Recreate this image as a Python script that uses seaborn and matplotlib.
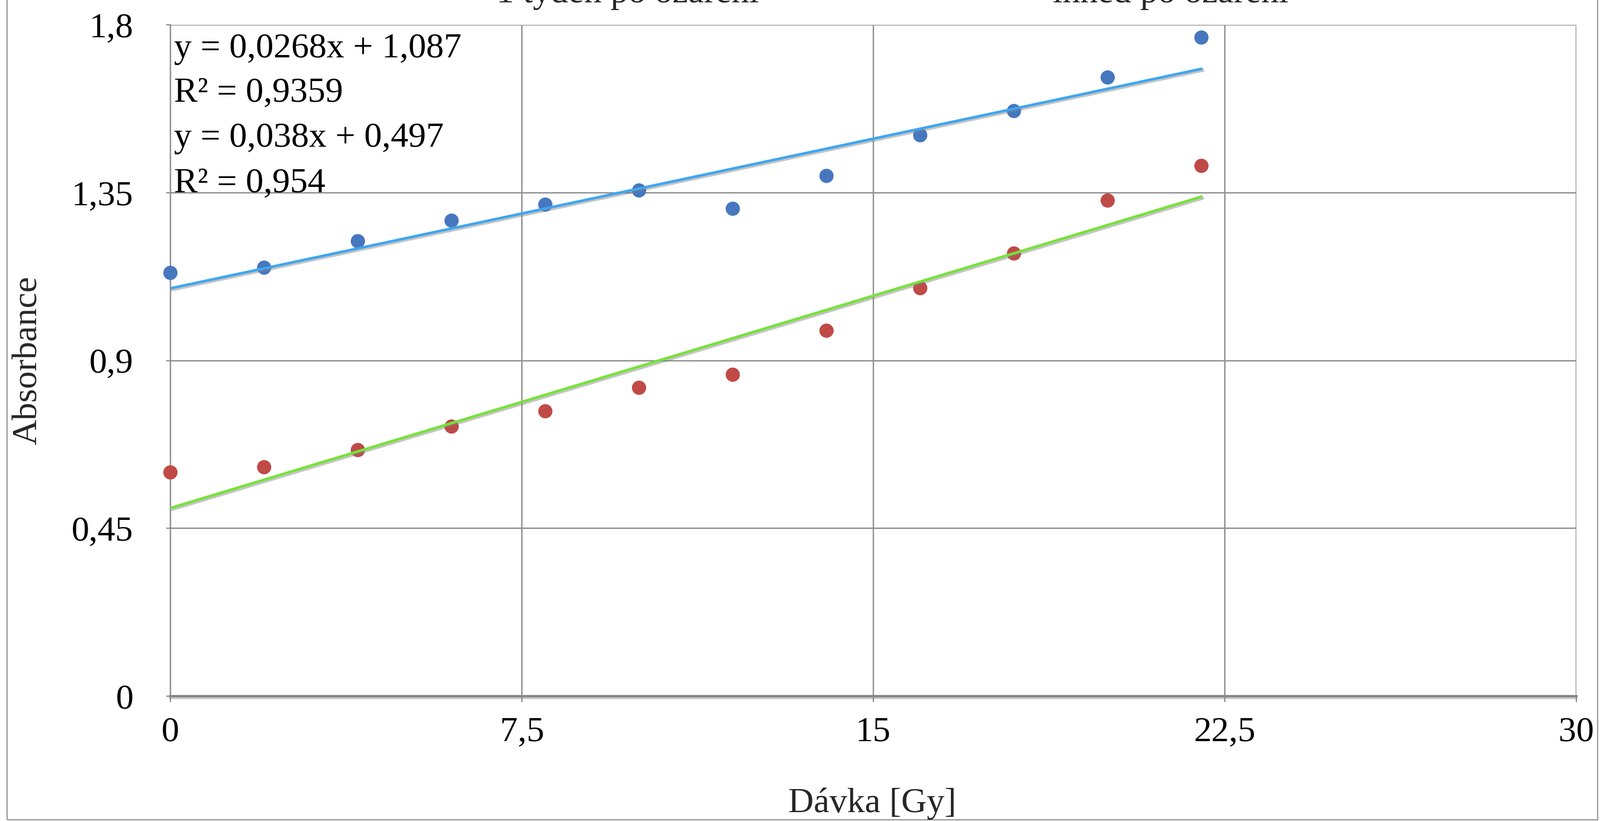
import matplotlib
matplotlib.use('Agg')
import matplotlib.pyplot as plt
import matplotlib.patheffects as pe
from matplotlib.patches import Rectangle
from matplotlib.ticker import FixedLocator, FixedFormatter
import seaborn as sns
import pandas as pd

# ---- data ----
dose = [0, 2, 4, 6, 8, 10, 12, 14, 16, 18, 20, 22]
abs_blue = [1.135, 1.149, 1.220, 1.275, 1.318, 1.356, 1.307, 1.395, 1.504, 1.569, 1.659, 1.766]
abs_red = [0.600, 0.614, 0.660, 0.723, 0.764, 0.827, 0.862, 0.980, 1.094, 1.187, 1.329, 1.422]

x_ticks = [0, 7.5, 15, 22.5, 30]
x_tick_labels = ["0", "7,5", "15", "22,5", "30"]
y_ticks = [0, 0.45, 0.9, 1.35, 1.8]
y_tick_labels = ["0", "0,45", "0,9", "1,35", "1,8"]

eq_lines = ["y = 0,0268x + 1,087", "R\u00b2 = 0,9359", "y = 0,038x + 0,497", "R\u00b2 = 0,954"]
legend_labels = ["1 týden po ozáření", "ihned po ozáření"]
x_label = "Dávka [Gy]"
y_label = "Absorbance"

df = pd.DataFrame({"dose": dose, "blue": abs_blue, "red": abs_red})

sns.set_theme(style="white")
plt.rcParams['font.family'] = ['Liberation Serif', 'DejaVu Serif']

W, H = 2704, 1388
fig = plt.figure(figsize=(W / 100, H / 100), dpi=100)
fig.patch.set_facecolor('white')

x0px, x1px, y0px, y1px = 288, 2664, 1177, 42
ax = fig.add_axes([x0px / W, 1 - y0px / H, (x1px - x0px) / W, (y0px - y1px) / H])

grid_c = '#8c8c8c'
shadow = [pe.SimpleLineShadow(offset=(2, -2), shadow_color='gray', alpha=0.45), pe.Normal()]

sns.scatterplot(data=df, x="dose", y="blue", color='#4677BF', s=300, edgecolor='none',
                ax=ax, clip_on=False, zorder=3)
sns.scatterplot(data=df, x="dose", y="red", color='#BF4A46', s=300, edgecolor='none',
                ax=ax, clip_on=False, zorder=3)
sns.regplot(data=df, x="dose", y="blue", scatter=False, ci=None, truncate=True, ax=ax,
            line_kws=dict(color='#3EA6F0', lw=3.2, zorder=4, path_effects=shadow))
sns.regplot(data=df, x="dose", y="red", scatter=False, ci=None, truncate=True, ax=ax,
            line_kws=dict(color='#76E23A', lw=3.2, zorder=4, path_effects=shadow))

ax.set_xlim(x_ticks[0], x_ticks[-1])
ax.set_ylim(y_ticks[0], y_ticks[-1])
ax.xaxis.set_major_locator(FixedLocator(x_ticks))
ax.xaxis.set_major_formatter(FixedFormatter(x_tick_labels))
ax.yaxis.set_major_locator(FixedLocator(y_ticks))
ax.yaxis.set_major_formatter(FixedFormatter(y_tick_labels))
ax.set_xlabel("")
ax.set_ylabel("")

ax.grid(True, color=grid_c, lw=1.6)
ax.set_axisbelow(True)
for s in ['top', 'right']:
    ax.spines[s].set_visible(False)
ax.spines['left'].set_color(grid_c)
ax.spines['left'].set_linewidth(1.6)
ax.spines['bottom'].set_color('#888888')
ax.spines['bottom'].set_linewidth(3)
ax.spines['bottom'].set_path_effects([pe.SimpleLineShadow(offset=(0, -2), shadow_color='gray', alpha=0.4), pe.Normal()])

ax.tick_params(axis='y', left=True, direction='out', length=5, width=1.5, color=grid_c,
               pad=40, labelsize=43, labelcolor='black')
ax.tick_params(axis='x', bottom=True, direction='out', length=7, width=1.5, color=grid_c,
               pad=18, labelsize=43, labelcolor='black')


def px(x, y):
    return x / W, 1 - y / H


# equations
for line, base in zip(eq_lines, [97, 172, 248, 325]):
    fig.text(*px(294, base), line, ha='left', va='baseline', fontsize=43, color='black')

# axis titles
fig.text(*px(48, 609), y_label, rotation=90, ha='center', va='center', fontsize=43)
fig.text(*px(1474, 1373), x_label, ha='center', va='baseline', fontsize=43)

# clipped legend at the top
fig.text(*px(1283, 4), legend_labels[0], ha='right', va='baseline', fontsize=43)
fig.text(*px(2178, 4), legend_labels[1], ha='right', va='baseline', fontsize=43)

# chart border
fig.add_artist(Rectangle((12 / W, 2 / H), (2700 - 12) / W, 1.2, transform=fig.transFigure,
                         fill=False, edgecolor='#999999', lw=1.5))

fig.savefig('out.png', dpi=100)
